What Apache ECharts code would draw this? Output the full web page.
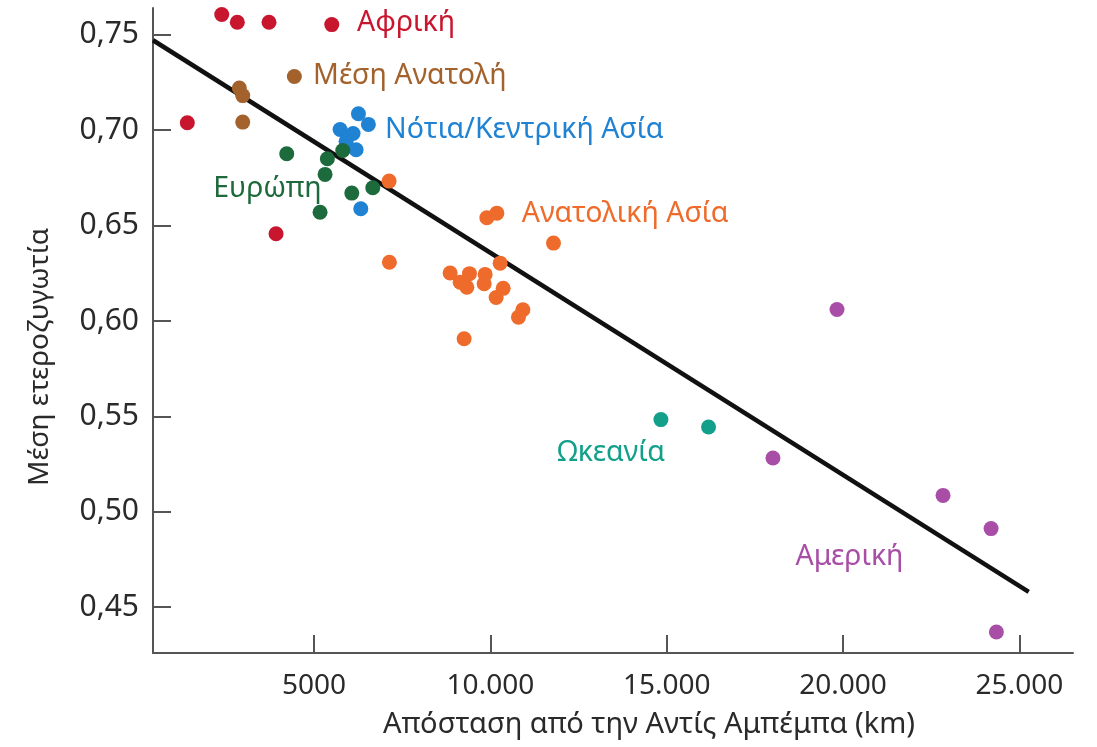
<!DOCTYPE html>
<html>
<head>
<meta charset="utf-8">
<script src="https://cdn.jsdelivr.net/npm/echarts@6.0.0/dist/echarts.min.js"></script>
<style>
  html, body { margin: 0; padding: 0; background: #ffffff; }
  #chart { width: 1097px; height: 747px; }
</style>
</head>
<body>
<div id="chart"></div>
<script>
// Distance from Addis Ababa (km) and mean heterozygosity, per region
const africa = [[2382, 0.7606], [2824, 0.7565], [3723, 0.7565], [5502, 0.7553], [1406, 0.7039], [3922, 0.6457]];
const middleEast = [[4441, 0.7281], [2881, 0.7221], [2977, 0.7181], [2977, 0.7042]];
const southCentralAsia = [[6258, 0.7086], [6540, 0.7030], [5738, 0.7003], [6106, 0.6982], [5908, 0.6941], [6192, 0.6897], [6325, 0.6588]];
const europe = [[4225, 0.6876], [5377, 0.6850], [5312, 0.6768], [5814, 0.6893], [6070, 0.6670], [6665, 0.6698], [5170, 0.6570]];
const eastAsia = [[7128, 0.6733], [9899, 0.6541], [10183, 0.6565], [11789, 0.6408], [7136, 0.6308], [10277, 0.6303],
  [8858, 0.6251], [9142, 0.6203], [9406, 0.6248], [9332, 0.6177], [9851, 0.6244], [9823, 0.6195],
  [10362, 0.6171], [10163, 0.6123], [10921, 0.6059], [10796, 0.6020], [9255, 0.5907]];
const oceania = [[14835, 0.5483], [16186, 0.5444]];
const americas = [[19828, 0.6060], [18012, 0.5282], [22835, 0.5086], [24197, 0.4912], [24348, 0.4370]];

// Fitted regression line (end points)
const trendLine = [[433, 0.7471], [25264, 0.4580]];

// Axis ticks
const xTickValues = [5000, 10000, 15000, 20000, 25000];
const xTickLabels = ['5000', '10.000', '15.000', '20.000', '25.000'];
const yTickValues = [0.45, 0.50, 0.55, 0.60, 0.65, 0.70, 0.75];
const yTickLabels = ['0,45', '0,50', '0,55', '0,60', '0,65', '0,70', '0,75'];

// Region names, colours and anchor points for the region labels
const regionNames = ['Αφρική', 'Μέση Ανατολή', 'Νότια/Κεντρική Ασία', 'Ευρώπη', 'Ανατολική Ασία', 'Ωκεανία', 'Αμερική'];
const regionColors = ['#c8162f', '#a3622c', '#1f82d2', '#1d6a3c', '#ee6b2b', '#12a08b', '#a84ea7'];
const regionLabelAnchors = [[6220, 0.7564], [4972, 0.7286], [7014, 0.7003], [2142, 0.6690], [10890, 0.6560], [11894, 0.5311], [18650, 0.4763]];
const regionSeries = [africa, middleEast, southCentralAsia, europe, eastAsia, oceania, americas];

const FONT = '"Noto Sans", "Open Sans", "DejaVu Sans", sans-serif';

const chart = echarts.init(document.getElementById('chart'));

const series = regionSeries.map((data, i) => ({
  name: regionNames[i],
  type: 'scatter',
  data: data,
  symbol: 'circle',
  symbolSize: 15,
  itemStyle: { color: regionColors[i], opacity: 1 },
  z: 3,
  markPoint: {
    symbol: 'circle',
    symbolSize: 0,
    silent: true,
    data: [{
      coord: regionLabelAnchors[i],
      label: {
        show: true,
        position: 'right',
        distance: 0,
        formatter: regionNames[i],
        color: regionColors[i],
        fontFamily: FONT,
        fontSize: 28.5
      }
    }]
  }
}));

series.push({
  name: 'trend',
  type: 'line',
  data: trendLine,
  symbol: 'none',
  lineStyle: { color: '#111111', width: 4.5 },
  z: 2,
  silent: true
});

chart.setOption({
  backgroundColor: '#ffffff',
  animation: false,
  grid: { left: 153, right: 24, top: 8, bottom: 94, containLabel: false },
  xAxis: {
    type: 'value',
    min: 433,
    max: 26520,
    splitLine: { show: false },
    axisLine: { show: true, onZero: false, lineStyle: { color: '#555555', width: 2 } },
    axisTick: { show: true, inside: true, length: 18, customValues: xTickValues, lineStyle: { color: '#555555', width: 2 } },
    axisLabel: {
      customValues: xTickValues,
      margin: 19,
      color: '#2a2a2a',
      fontFamily: FONT,
      fontSize: 28,
      formatter: v => xTickLabels[xTickValues.indexOf(v)]
    }
  },
  yAxis: {
    type: 'value',
    min: 0.426,
    max: 0.764,
    splitLine: { show: false },
    axisLine: { show: true, onZero: false, lineStyle: { color: '#555555', width: 2 } },
    axisTick: { show: true, inside: true, length: 18, customValues: yTickValues, lineStyle: { color: '#555555', width: 2 } },
    axisLabel: {
      customValues: yTickValues,
      margin: 14,
      color: '#2a2a2a',
      fontFamily: FONT,
      fontSize: 30,
      formatter: v => yTickLabels[yTickValues.findIndex(t => Math.abs(t - v) < 1e-6)]
    }
  },
  graphic: [
    {
      type: 'text',
      x: 649,
      y: 710,
      style: { text: 'Απόσταση από την Αντίς Αμπέμπα (km)', fill: '#2a2a2a', font: '29px ' + FONT, textAlign: 'center' }
    },
    {
      type: 'text',
      x: 26,
      y: 486,
      rotation: Math.PI / 2,
      style: { text: 'Μέση ετεροζυγωτία', fill: '#2a2a2a', font: '28px ' + FONT }
    }
  ],
  series: series
});
</script>
</body>
</html>
